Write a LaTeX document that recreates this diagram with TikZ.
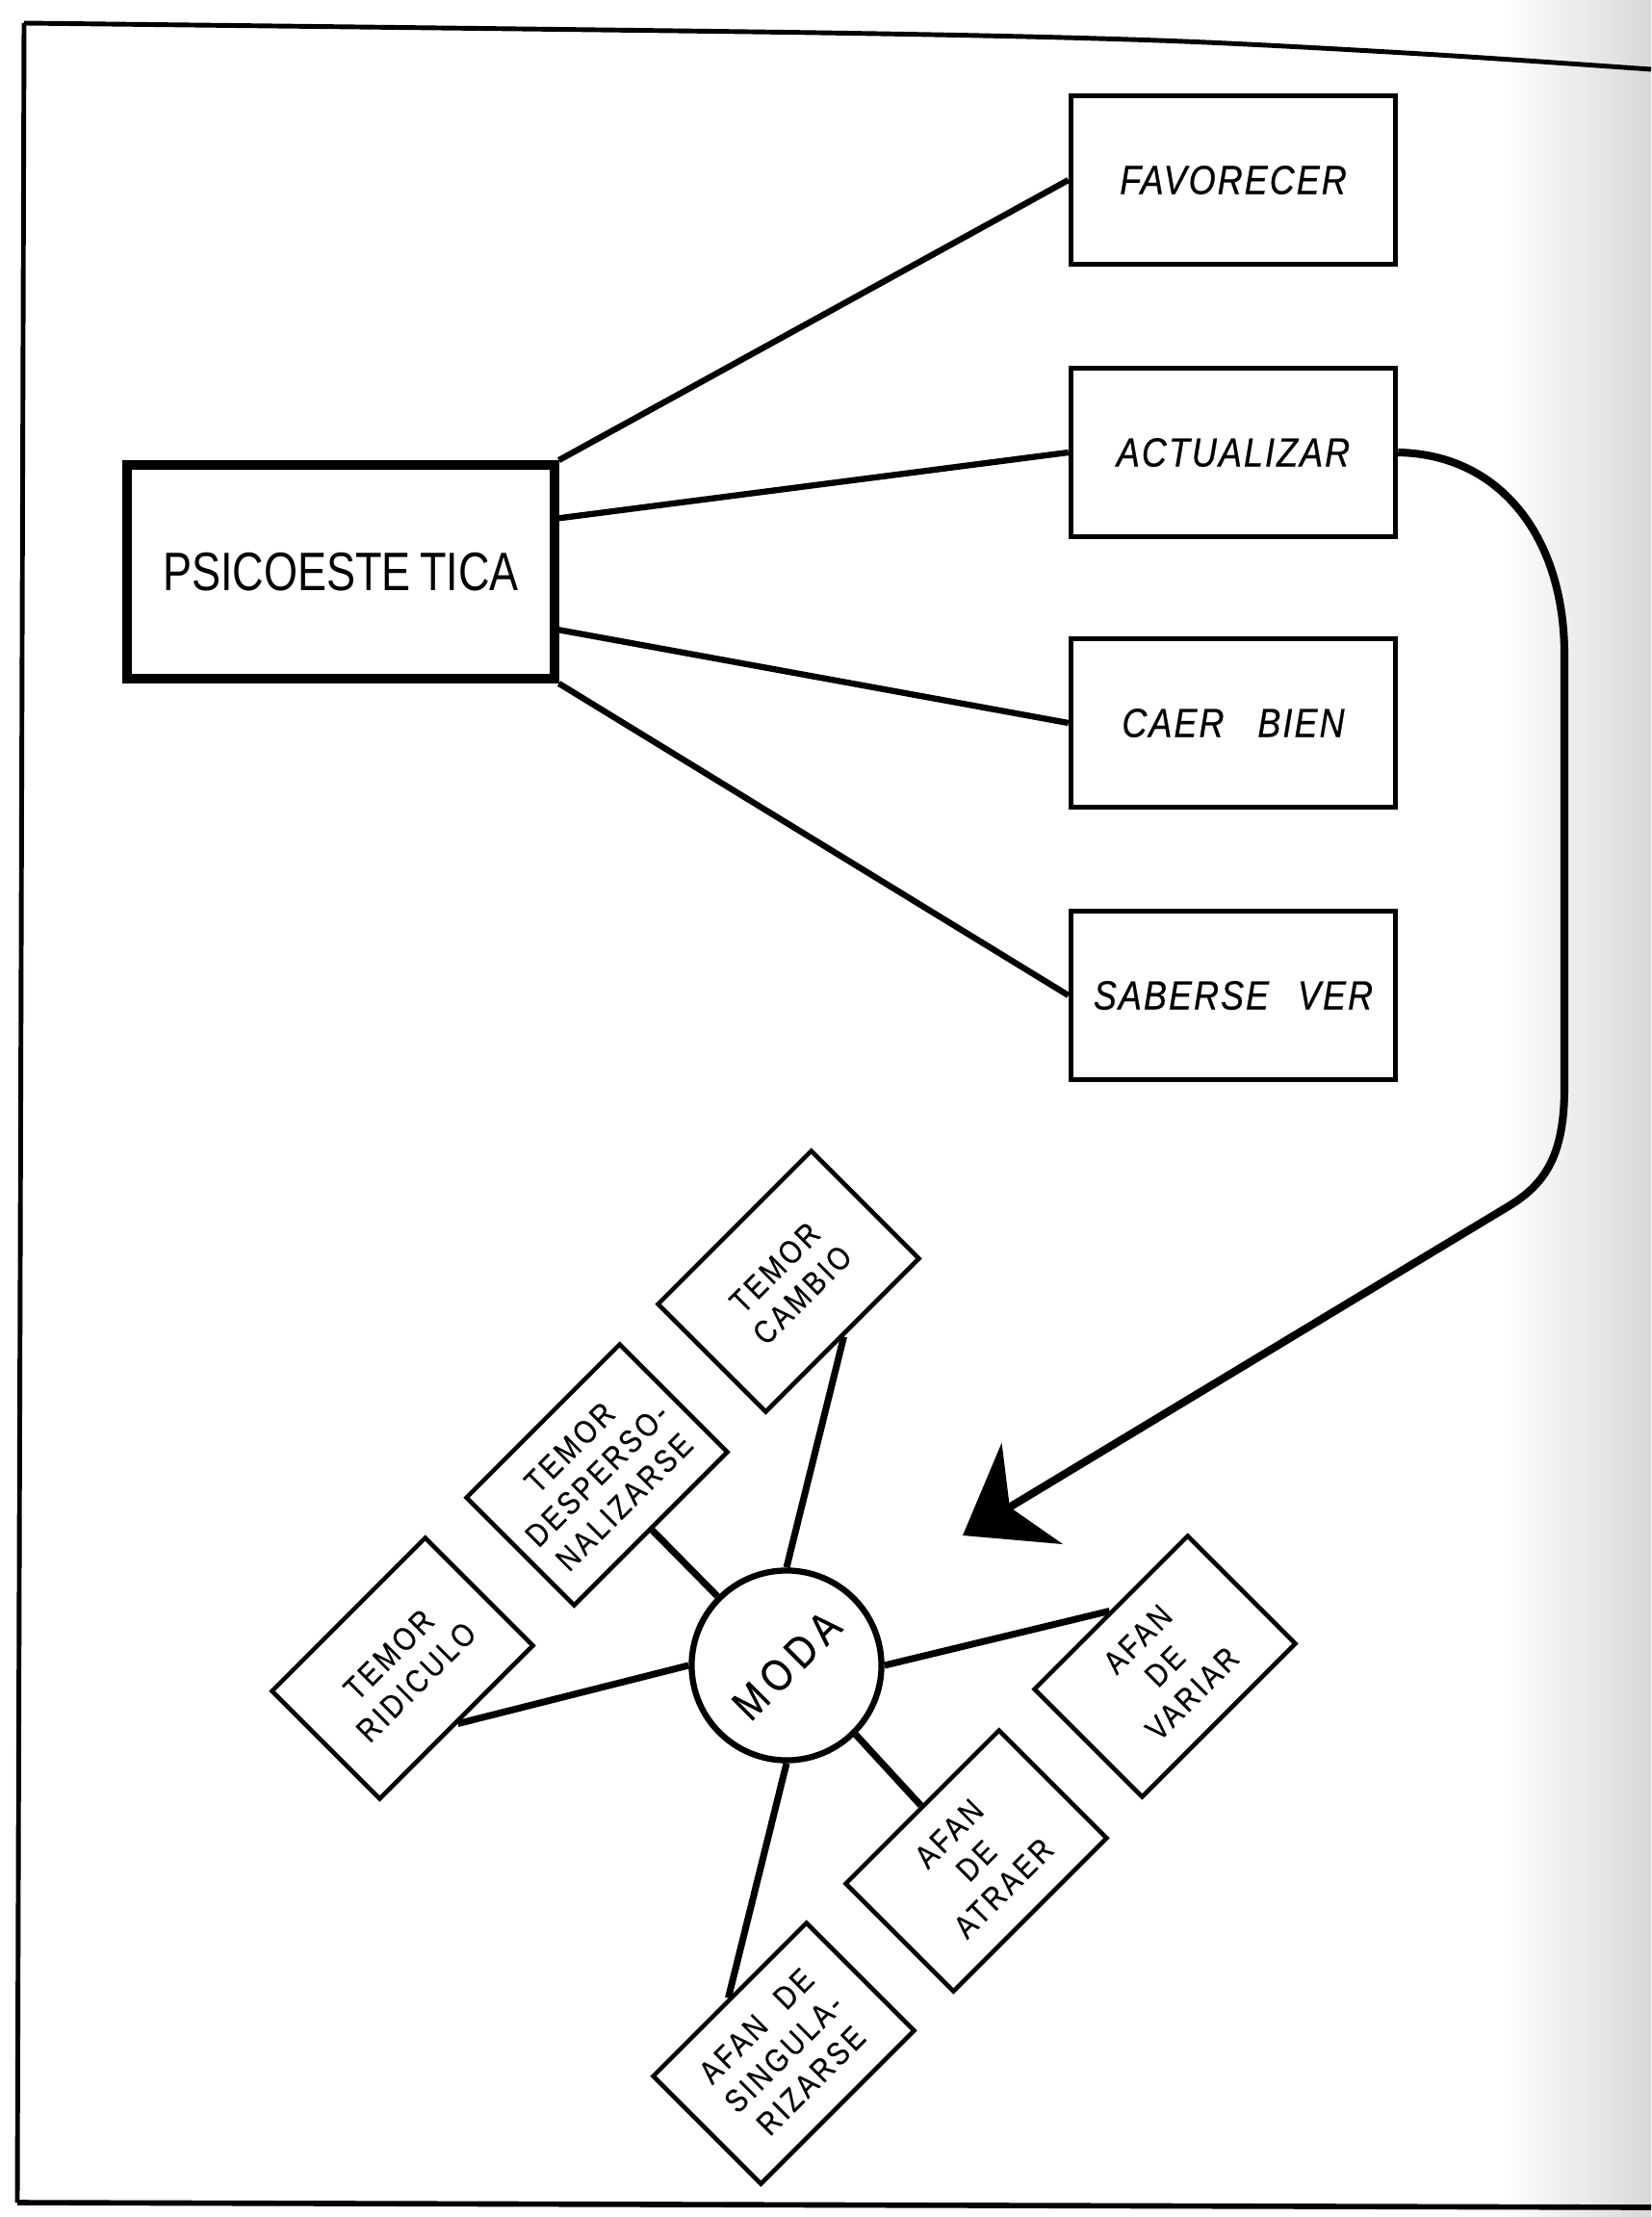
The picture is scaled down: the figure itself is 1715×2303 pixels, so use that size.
\documentclass[tikz,border=0pt]{standalone}
\usepackage{fontspec}
\usepackage{graphicx}
\setmainfont{Liberation Sans}
\newfontfamily\psfont[FakeStretch=0.8]{Liberation Sans}
\newfontfamily\rbfont[FakeStretch=0.85,LetterSpace=5,FakeBold=0.6]{Liberation Sans}
\newfontfamily\smfont[FakeStretch=0.85,LetterSpace=10,FakeBold=0.5]{Liberation Sans}
\newfontfamily\modafont[FakeStretch=0.85,LetterSpace=15,FakeBold=0.6]{Liberation Sans}
\usetikzlibrary{arrows.meta,calc}
\begin{document}
\begin{tikzpicture}[x=0.01cm,y=-0.01cm,
  frame/.style={line width=1.4pt},
  rbox/.style={draw, line width=1.5pt, minimum width=3.37cm, minimum height=1.75cm,
    inner sep=0pt, font=\rbfont\itshape\fontsize{12}{14}\selectfont},
  mainbox/.style={draw, line width=2.8pt, minimum width=4.43cm, minimum height=2.22cm,
    inner sep=0pt, font=\psfont\fontsize{16}{19}\selectfont},
  tbox/.style={draw, line width=1.3pt, rotate=45, minimum width=2.25cm, minimum height=1.58cm,
    inner sep=0pt, align=center, font=\smfont\fontsize{9.5}{11.4}\selectfont},
  hub/.style={draw, circle, line width=1.8pt, minimum size=1.97cm, inner sep=0pt,
    font=\modafont\fontsize{13}{15}\selectfont},
  link/.style={line width=1.8pt},
  hublink/.style={line width=2pt},
  bigarrow/.style={line width=2.3pt, line join=round,
    -{Stealth[length=0.84cm,width=1.22cm,inset=0.27cm]}}
]
\useasboundingbox (0,0) rectangle (1715,2303);
\shade[left color=white, right color=black!15, draw=none] (1560,0) rectangle (1715,2303);

% frame
\draw[frame] plot[smooth] coordinates {(25,24) (850,34) (1203,42) (1477,56) (1715,72)};
\draw[frame] (25,24) -- (18,2288);
\draw[line width=1.6pt] (18,2288) -- (1715,2293);

% main box and right boxes
\node[mainbox] (psico) at (354,594) {PSICOESTE\,TICA};
\node[rbox] (fav)  at (1281,187)  {FAVORECER};
\node[rbox] (act)  at (1281,470)  {ACTUALIZAR};
\node[rbox] (caer) at (1281,751)  {CAER\hspace{0.35cm}BIEN};
\node[rbox] (sab)  at (1281,1034) {SABERSE\hspace{0.3cm}VER};

\draw[link] (psico.north east) -- (fav.west);
\draw[link] ($(psico.north east)!0.26!(psico.south east)$) -- (act.west);
\draw[link] ($(psico.north east)!0.76!(psico.south east)$) -- (caer.west);
\draw[link] (psico.south east) -- (sab.west);

% moda cluster
\node[hub] (moda) at (817,1730) {\rotatebox{45}{MODA}};
\node[tbox] (cambio) at (819,1331) {TEMOR\\CAMBIO};
\node[tbox] (desp)   at (620,1532) {TEMOR\\DESPERSO-\\NALIZARSE};
\node[tbox] (rid)    at (418,1733) {TEMOR\\RIDICULO};
\node[tbox] (var)    at (1210,1731) {AFAN\\DE\\VARIAR};
\node[tbox] (atr)    at (1014,1933) {AFAN\\DE\\ATRAER};
\node[tbox] (sing)   at (814,2133) {AFAN\hspace{0.25cm}DE\\SINGULA-\\RIZARSE};

\draw[hublink] (cambio.south) -- (moda.north);
\draw[hublink] (desp.south) -- (moda.north west);
\draw[hublink] (rid.south) -- (moda.west);
\draw[hublink] (var.north) -- (moda.east);
\draw[hublink] (atr.north) -- (moda.south east);
\draw[hublink] (sing.north) -- (moda.south);

% big arrow
\coordinate (tip) at (1000,1595);
\draw[bigarrow] (act.east) .. controls (1560,472) and (1625,560) .. (1625,680)
  -- (1625,1130) .. controls (1625,1200) and (1605,1230) .. (1567,1253) -- (tip);
\end{tikzpicture}
\end{document}
